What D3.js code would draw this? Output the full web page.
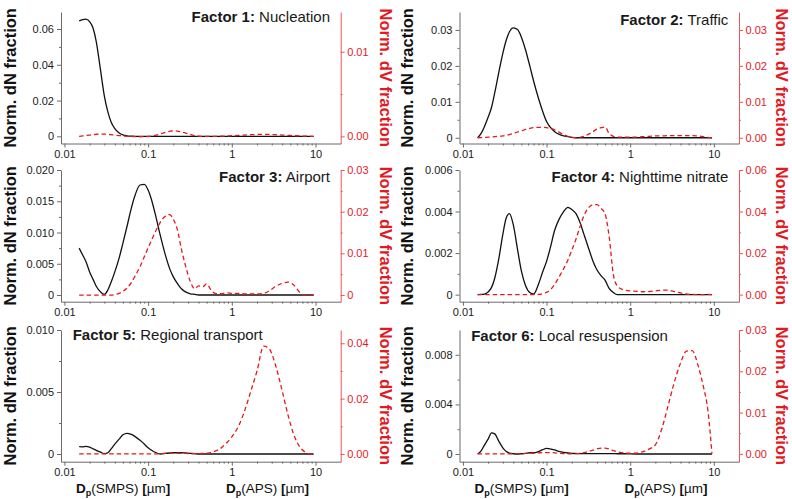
<!DOCTYPE html>
<html><head><meta charset="utf-8">
<script src="https://cdn.jsdelivr.net/npm/d3@7"></script>
<style>
body{margin:0;background:#fff;}
svg{display:block;font-family:"Liberation Sans",Arial,Helvetica,sans-serif;}
</style></head><body>
<svg id="chart" width="792" height="499"></svg>
<script>
// ---------- data ----------
const diameters = [0.015,0.0165,0.018,0.02,0.022, 0.024,0.027,0.03,0.033,0.036,
  0.04,0.045,0.05,0.056,0.063, 0.07,0.08,0.09,0.1,0.11,
  0.125,0.14,0.16,0.18,0.2, 0.225,0.25,0.28,0.32,0.36,
  0.4,0.45,0.5,0.56,0.63, 0.7,0.8,0.9,1.0,1.2,
  1.4,1.7,2.0,2.4,2.8, 3.3,4.0,4.7,5.5,6.5,
  7.5,8.5,9.5];

const factorNumbers = ["Factor 1:","Factor 2:","Factor 3:","Factor 4:","Factor 5:","Factor 6:"];
const factorNames = [" Nucleation"," Traffic"," Airport"," Nighttime nitrate"," Regional transport"," Local resuspension"];

const dN1 = [0.0645,0.0652,0.0655,0.0641,0.0604, 0.053,0.037,0.0225,0.0138,0.0081,
  0.0043,0.0019,0.0008,0.0003,0.0001, 0,0,0,0,0,
  0,0,0,0,0, 0,0,0,0,0, 0,0,0,0,0, 0,0,0,0,0, 0,0,0,0,0, 0,0,0,0,0, 0,0,0];
const dV1 = [0,0.00005,0.0001,0.00016,0.00021, 0.00025,0.00028,0.00027,0.00024,0.0002,
  0.00015,0.0001,0.00005,0.00002,0, -0.00003,-0.00004,-0.00003,0,0.00005,
  0.00015,0.0003,0.00048,0.0006,0.00067, 0.00063,0.00053,0.0004,0.00024,0.0001,
  0.00003,0,0,0,0, 0.00002,0.00004,0.00006,0.00008,0.00012,
  0.00016,0.0002,0.00023,0.00024,0.00023, 0.0002,0.00016,0.00012,0.00008,0.00005,
  0.00003,0.00001,0];

const dN2 = [0,0.0012,0.0030,0.0057,0.0085, 0.0125,0.0185,0.0235,0.0272,0.0295,
  0.0306,0.0301,0.0280,0.0245,0.0200, 0.0158,0.0110,0.0073,0.0045,0.0030,
  0.0017,0.0010,0.0005,0.0003,0.0001, 0,0,0,0,0,
  0,0,0,0,0, 0,0,0,0,0, 0,0,0,0,0, 0,0,0,0,0, 0,0,0];
const dV2 = [0,0.00005,0.0001,0.00015,0.0002, 0.0003,0.0004,0.0005,0.0007,0.0009,
  0.0012,0.0016,0.0019,0.0023,0.0026, 0.0028,0.0029,0.0029,0.0028,0.0026,
  0.0022,0.0016,0.0009,0.0004,0.0001, 0,0.0001,0.0004,0.0010,0.0017,
  0.0024,0.0028,0.0030,0.0012,0.0004, 0.0002,0.0002,0.0002,0.0002,0.0002,
  0.0003,0.0004,0.0005,0.0005,0.0006, 0.0006,0.0006,0.0006,0.0006,0.0005,
  0.0003,0.0001,0];

const dN3 = [0.0075,0.0064,0.0054,0.0037,0.0025, 0.0014,0.0005,0.0001,0.0008,0.0020,
  0.0037,0.0059,0.0083,0.0110,0.0139, 0.0160,0.0176,0.0177,0.0168,0.0152,
  0.0123,0.0095,0.0065,0.0043,0.0029, 0.0018,0.0010,0.0005,0.0002,0.0001,
  0,0,0,0,0, 0,0,0,0,0, 0,0,0,0,0, 0,0,0,0,0, 0,0,0];
const dV3 = [0,0,0,0,0, 0,0,0,0,0,
  0.0001,0.0004,0.0009,0.0017,0.0030, 0.0046,0.0068,0.0092,0.0113,0.0132,
  0.0156,0.0175,0.0189,0.0193,0.0182, 0.0155,0.0110,0.0070,0.0032,0.0015,
  0.0022,0.0020,0.0027,0.0013,0.0004, 0.0003,0.0004,0.0005,0.0004,0.0004,
  0.0003,0.0003,0.0003,0.0004,0.0010, 0.0020,0.0028,0.0031,0.0024,0.0006,
  0,0,0];

const dN4 = [0,0.00001,0.00003,0.00013,0.00035, 0.00079,0.00178,0.0029,0.0037,0.0039,
  0.00337,0.00217,0.00114,0.00044,0.0001, 0.00003,0.0005,0.0011,0.0016,0.0022,
  0.0031,0.0036,0.0040,0.0042,0.0041, 0.0039,0.0035,0.0029,0.0022,0.0016,
  0.0012,0.0009,0.0007,0.0003,0.0001, 0,0,0,0,0,
  0,0,0,0,0, 0,0,0,0,0, 0,0,0];
const dV4 = [0,0,0,0,0, 0,0,0,0,0, 0,0,0,0,0,
  0,0.0001,0.0005,0.0011,0.0022, 0.0049,0.0083,0.0125,0.0167,0.0213,
  0.0268,0.0325,0.0380,0.0420,0.0433, 0.0433,0.0415,0.0390,0.0280,0.0095,
  0.0042,0.0026,0.0020,0.0018,0.0016, 0.0014,0.0015,0.0018,0.0021,0.0022,
  0.0016,0.0008,0.0003,0.0001,0, 0,0.0001,0];

const dN5 = [0.00059,0.00058,0.00062,0.00055,0.00042, 0.00030,0.00015,0.00003,0.0001,0.0004,
  0.0008,0.0012,0.00155,0.00167,0.00158, 0.0014,0.0011,0.0008,0.0005,0.0003,
  0.0001,0,0.00005,0.00008,0.0001, 0.0001,0.0001,0.00008,0.00005,0.00003,
  0,0,0,0,0, 0,0,0,0,0, 0,0,0,0,0, 0,0,0,0,0, 0,0,0];
const dV5 = [0,0,0,0,0, 0,0,0,0,0, 0,0,0,0,0, 0,0,0,0,0,
  0,0.0001,0.0002,0.0003,0.0003, 0.0003,0.0002,0.0002,0.0001,0.0001,
  0.0001,0.0002,0.0003,0.0005,0.0010, 0.0016,0.0030,0.0045,0.0062,0.0100,
  0.0150,0.0230,0.0300,0.0390,0.0380, 0.0325,0.0228,0.0140,0.0070,0.0025,
  0.0007,0,0];

const dN6 = [0,0.00025,0.0007,0.0012,0.0017, 0.00162,0.001,0.0005,0.0002,0.00007,
  0.00002,0,0.00002,0.00005,0.0001, 0.0001,0.0002,0.00035,0.00045,0.00042,
  0.00033,0.00022,0.00013,0.00008,0.00005, 0.00004,0.00003,0.00003,0.00003,0.00003,
  0.00003,0.00003,0.00003,0.00003,0.00003, 0.00002,0.00002,0.00002,0.00001,0,
  0,0,0,0,0, 0,0,0,0,0, 0,0,0];
const dV6 = [0,0,0,0,0, 0,0,0,0,0,
  0,0.00003,0.00006,0.0001,0.00015, 0.0002,0.00025,0.0003,0.0003,0.0003,
  0.00025,0.00015,0.00007,0.00002,0, 0.00005,0.0001,0.0003,0.0006,0.0009,
  0.0012,0.0014,0.0014,0.0012,0.0008, 0.0005,0.0003,0.0002,0.00015,0.0002,
  0.0005,0.0012,0.0022,0.0062,0.0112, 0.0167,0.0220,0.0249,0.0250,0.0213,
  0.0163,0.0105,0];

const dNSeries = [dN1,dN2,dN3,dN4,dN5,dN6];
const dVSeries = [dV1,dV2,dV3,dV4,dV5,dV6];

const xTickValues = [0.01,0.1,1,10];
const xTickLabels = ["0.01","0.1","1","10"];
const xMinorTicks = [0.02,0.03,0.04,0.05,0.06,0.07,0.08,0.09,0.2,0.3,0.4,0.5,0.6,0.7,0.8,0.9,2,3,4,5,6,7,8,9];

const dNTickValues = [[0,0.02,0.04,0.06],[0,0.01,0.02,0.03],[0,0.005,0.01,0.015,0.02],[0,0.002,0.004,0.006],[0,0.005,0.01],[0,0.004,0.008]];
const dNTickLabels = [["0","0.02","0.04","0.06"],["0","0.01","0.02","0.03"],["0","0.005","0.010","0.015","0.020"],["0","0.002","0.004","0.006"],["0","0.005","0.010"],["0","0.004","0.008"]];
const dVTickValues = [[0,0.01],[0,0.01,0.02,0.03],[0,0.01,0.02,0.03],[0,0.02,0.04,0.06],[0,0.02,0.04],[0,0.01,0.02,0.03]];
const dVTickLabels = [["0.00","0.01"],["0.00","0.01","0.02","0.03"],["0","0.01","0.02","0.03"],["0.00","0.02","0.04","0.06"],["0.00","0.02","0.04"],["0.00","0.01","0.02","0.03"]];

const yLabelLeft = "Norm. dN fraction";
const yLabelRight = "Norm. dV fraction";
const xInstruments = ["SMPS","APS"];

// ---------- layout ----------
const RED = "#e3191f";
const RED_AXIS = "#e8585c";
const AXIS_GRAY = "#6a6a6a";
const cols = [{x0:61, x1:340.7, yl:10, yr:386}, {x0:459.5, x1:739, yl:407, yr:782}];
const rows = [{top:12, bottom:143.5}, {top:170, bottom:301.7}, {top:330, bottom:461.7}];
const dNDomains = [[-0.004,0.0695],[-0.0016,0.035],[-0.00107,0.02],[-0.00034,0.006],[-0.00062,0.01],[-0.00062,0.01]];
const dVDomains = [[-0.00084,0.0147],[-0.0016,0.035],[-0.0016,0.03],[-0.0034,0.06],[-0.0028,0.0448],[-0.0019,0.03]];
const titleBase = [21.7, 25, 181.7, 182, 340, 340.5];
const xLabelOffsets = [15, 165];

const svg = d3.select("#chart");

function minorOf(vals){
  const out=[];
  for(let i=0;i<vals.length-1;i++) out.push((vals[i]+vals[i+1])/2);
  return out;
}

function styleAxis(g, color, textColor){
  g.select(".domain").attr("stroke", color).attr("stroke-width",1);
  g.selectAll(".tick line").attr("stroke", color).attr("stroke-width",1);
  g.selectAll(".tick text").attr("fill", textColor).attr("font-size",11)
    .attr("font-family",'"Liberation Sans",Arial,sans-serif');
}

for(let i=0;i<6;i++){
  const c = cols[i%2], r = rows[Math.floor(i/2)];
  const x = d3.scaleLog().domain([0.0091,20]).range([c.x0,c.x1]);
  const yN = d3.scaleLinear().domain(dNDomains[i]).range([r.bottom,r.top]);
  const yV = d3.scaleLinear().domain(dVDomains[i]).range([r.bottom,r.top]);
  const g = svg.append("g");

  // left axis
  const gl = g.append("g").attr("transform",`translate(${c.x0},0)`)
    .call(d3.axisLeft(yN).tickValues(dNTickValues[i]).tickFormat((d,k)=>dNTickLabels[i][k]).tickSize(4).tickSizeOuter(0).tickPadding(3));
  styleAxis(gl, AXIS_GRAY, "#1a1a1a");
  const glm = g.append("g").attr("transform",`translate(${c.x0},0)`)
    .call(d3.axisLeft(yN).tickValues(minorOf(dNTickValues[i])).tickFormat("").tickSize(2).tickSizeOuter(0));
  glm.select(".domain").remove(); styleAxis(glm, AXIS_GRAY, "#1a1a1a");

  // right axis
  const gr = g.append("g").attr("transform",`translate(${c.x1},0)`)
    .call(d3.axisRight(yV).tickValues(dVTickValues[i]).tickFormat((d,k)=>dVTickLabels[i][k]).tickSize(4).tickSizeOuter(0).tickPadding(2.5));
  styleAxis(gr, RED_AXIS, RED);
  const grm = g.append("g").attr("transform",`translate(${c.x1},0)`)
    .call(d3.axisRight(yV).tickValues(minorOf(dVTickValues[i])).tickFormat("").tickSize(2).tickSizeOuter(0));
  grm.select(".domain").remove(); styleAxis(grm, RED_AXIS, RED);

  // bottom axis
  const gb = g.append("g").attr("transform",`translate(0,${r.bottom})`)
    .call(d3.axisBottom(x).tickValues(xTickValues).tickFormat((d,k)=>xTickLabels[k]).tickSize(4).tickSizeOuter(0).tickPadding(3));
  styleAxis(gb, AXIS_GRAY, "#1a1a1a");
  const gbm = g.append("g").attr("transform",`translate(0,${r.bottom})`)
    .call(d3.axisBottom(x).tickValues(xMinorTicks).tickFormat("").tickSize(2).tickSizeOuter(0));
  gbm.select(".domain").remove(); styleAxis(gbm, AXIS_GRAY, "#1a1a1a");

  // curves
  const lineN = d3.line().x((d,k)=>x(diameters[k])).y(d=>yN(d)).curve(d3.curveMonotoneX);
  const lineV = d3.line().x((d,k)=>x(diameters[k])).y(d=>yV(d)).curve(d3.curveMonotoneX);
  g.append("path").attr("d", lineN(dNSeries[i])).attr("fill","none")
    .attr("stroke","#111").attr("stroke-width",1.3);
  g.append("path").attr("d", lineV(dVSeries[i])).attr("fill","none")
    .attr("stroke",RED).attr("stroke-width",1.3).attr("stroke-dasharray","4.5,3");

  // title
  const t = g.append("text").attr("font-size",15).attr("fill","#1a1a1a").attr("y",titleBase[i]);
  if(Math.floor(i/2) < 2){ t.attr("x", c.x1 - 10.7).attr("text-anchor","end"); }
  else { t.attr("x", c.x0 + 11.7).attr("text-anchor","start"); }
  t.append("tspan").attr("font-weight","bold").text(factorNumbers[i]);
  t.append("tspan").text(factorNames[i]);

  // y labels
  const cy = (r.top + r.bottom)/2;
  g.append("text").attr("transform",`translate(${c.yl},${cy}) rotate(-90)`)
    .attr("text-anchor","middle").attr("dy","0.35em").attr("font-weight","bold")
    .attr("font-size",16.5).attr("fill","#111").text(yLabelLeft);
  g.append("text").attr("transform",`translate(${c.yr},${cy}) rotate(90)`)
    .attr("text-anchor","middle").attr("dy","0.35em").attr("font-weight","bold")
    .attr("font-size",16.5).attr("fill",RED).text(yLabelRight);

  // x labels (bottom row)
  if(Math.floor(i/2) === 2){
    xInstruments.forEach((inst, k)=>{
      const tx = g.append("text").attr("x", c.x0 + xLabelOffsets[k]).attr("y", 492.5).attr("font-size",13.5).attr("fill","#111");
      tx.append("tspan").attr("font-weight","bold").text("D");
      tx.append("tspan").attr("font-weight","bold").attr("font-size",9).attr("dy",3.5).text("p");
      tx.append("tspan").attr("dy",-3.5).text("(" + inst + ") ");
      tx.append("tspan").attr("font-weight","bold").text("[");
      tx.append("tspan").text("µm");
      tx.append("tspan").attr("font-weight","bold").text("]");
    });
  }
}
</script>
</body></html>
